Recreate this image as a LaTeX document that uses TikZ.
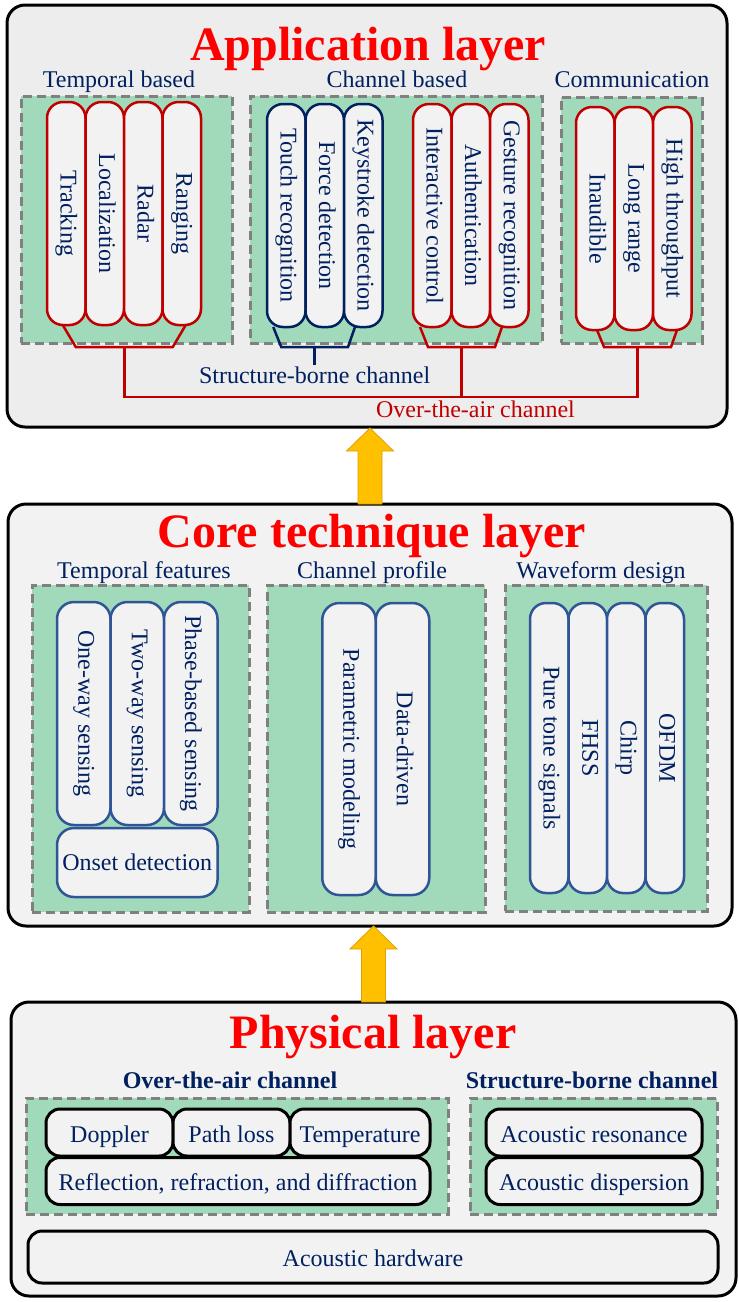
\documentclass[tikz,border=0pt]{standalone}
\usepackage{fontspec}
\usepackage{graphicx}
\setmainfont{Liberation Serif}
\usetikzlibrary{positioning}

\definecolor{navy}{RGB}{0,32,96}
\definecolor{titlered}{RGB}{255,0,0}
\definecolor{darkred}{RGB}{192,0,0}
\definecolor{pillblue}{RGB}{47,85,151}
\definecolor{grpgreen}{RGB}{160,218,186}
\definecolor{dashgray}{RGB}{128,128,128}
\definecolor{pillgray}{RGB}{242,242,242}
\definecolor{appgray}{RGB}{237,237,237}
\definecolor{layergray}{RGB}{242,242,242}
\definecolor{arrowyel}{RGB}{255,192,0}
\definecolor{arrowedge}{RGB}{222,160,0}

\newcommand{\vtext}[1]{\rotatebox{-90}{\vphantom{Ag}#1}}

\begin{document}
\begin{tikzpicture}[x=1pt, y=-1pt,
    every node/.style={font=\fontsize{24}{28}\selectfont, text=navy},
    layer/.style={draw=black, line width=3pt, rounded corners=18pt, fill=layergray, inner sep=0pt, outer sep=0pt},
    title/.style={font=\fontsize{48}{56}\selectfont\bfseries, text=titlered, anchor=base},
    lbl/.style={anchor=base},
    blbl/.style={lbl, font=\fontsize{24}{28}\selectfont\bfseries},
    grp/.style={draw=dashgray, fill=grpgreen, dash pattern=on 9pt off 5pt, line width=3pt, inner sep=0pt},
    pill/.style={draw, fill=pillgray, line width=2.5pt, outer sep=0pt, inner sep=0pt},
    apill/.style={pill, draw=darkred, minimum width=38.5pt, minimum height=223pt, rounded corners=16pt},
    spill/.style={apill, draw=navy},
    cpill/.style={pill, draw=pillblue, minimum width=53.5pt, minimum height=223pt, rounded corners=17pt},
    wpill/.style={pill, draw=pillblue, minimum width=38.5pt, minimum height=290pt, rounded corners=16pt},
    pbox/.style={pill, draw=black, line width=3pt, minimum height=47pt, rounded corners=14pt, text height=19pt, text depth=0pt},
    redln/.style={draw=darkred, line width=2.5pt},
    blueln/.style={draw=navy, line width=2.5pt},
    uparrow/.style={fill=arrowyel, draw=arrowedge, line width=0.8pt}
  ]
  \useasboundingbox (0,0) rectangle (739,1302);

  % layers
  \node[layer, fill=appgray, minimum width=720pt, minimum height=422pt] (app) at (367,216) {};
  \node[layer, minimum width=724pt, minimum height=422pt] (core) at (370,715) {};
  \node[layer, minimum width=725pt, minimum height=294pt] (phys) at (373.5,1149) {};

  \node[title] at (368,60) {Application layer};
  \node[title] at (372,547) {Core technique layer};
  \node[title] at (373,1048) {Physical layer};

  % application layer
  \node[grp, minimum width=211pt, minimum height=247pt] (tgrp) at (126.5,219.5) {};
  \node[lbl] at (119,87) {Temporal based};
  \node[apill] (track) at (66.25,213.5) {\vtext{Tracking}};
  \node[apill, right=0pt of track] (loc) {\vtext{Localization}};
  \node[apill, right=0pt of loc] (radar) {\vtext{Radar}};
  \node[apill, right=0pt of radar] (rang) {\vtext{Ranging}};

  \node[grp, minimum width=292pt, minimum height=247pt] (cgrp) at (396,219.5) {};
  \node[lbl] at (397,87) {Channel based};
  \node[spill] (touch) at (286.25,215.5) {\vtext{Touch recognition}};
  \node[spill, right=0pt of touch] (force) {\vtext{Force detection}};
  \node[spill, right=0pt of force] (key) {\vtext{Keystroke detection}};
  \node[apill] (inter) at (432.25,215.5) {\vtext{Interactive control}};
  \node[apill, right=0pt of inter] (auth) {\vtext{Authentication}};
  \node[apill, right=0pt of auth] (gest) {\vtext{Gesture recognition}};

  \node[grp, minimum width=141pt, minimum height=246pt] (mgrp) at (631.5,220) {};
  \node[lbl] at (632,87) {Communication};
  \node[apill] (inaud) at (595.25,218.5) {\vtext{Inaudible}};
  \node[apill, right=0pt of inaud] (long) {\vtext{Long range}};
  \node[apill, right=0pt of long] (high) {\vtext{High throughput}};

  % brackets
  \draw[redln] ([xshift=-3.5pt]track.south) -- ++(13,22) -- coordinate (tb) ([xshift=-9pt,yshift=-22pt]rang.south) -- ([xshift=4pt]rang.south);
  \draw[blueln] ([xshift=-13pt]touch.south) -- ++(8,20) -- coordinate (sb) ([xshift=-15.25pt,yshift=-20pt]key.south) -- ([xshift=-8.25pt]key.south);
  \draw[redln] ([xshift=-12.25pt]inter.south) -- ++(8,20) -- coordinate (cb) ([xshift=-14.25pt,yshift=-20pt]gest.south) -- ([xshift=-7.25pt]gest.south);
  \draw[redln] ([xshift=1.75pt]inaud.south) -- ++(7,17) -- coordinate (mb) ([xshift=-1.25pt,yshift=-17pt]high.south) -- ([xshift=4.75pt]high.south);

  \draw[redln] (tb) -- ++(0,50) coordinate (bus) -- (bus -| mb) -- (mb);
  \draw[redln] (cb) -- (cb |- bus) node[below, inner sep=3pt, xshift=14pt, text=darkred] {Over-the-air channel};
  \draw[blueln] (sb) -- ++(0,18) node[below, inner sep=1pt] {Structure-borne channel};

  % core technique layer
  \node[grp, minimum width=217pt, minimum height=327pt] (tfgrp) at (140.5,748.5) {};
  \node[lbl] at (144,578) {Temporal features};
  \node[cpill] (one) at (83.75,713.5) {\vtext{One-way sensing}};
  \node[cpill, right=0pt of one] (two) {\vtext{Two-way sensing}};
  \node[cpill, right=0pt of two] (phase) {\vtext{Phase-based sensing}};
  \node[pill, draw=pillblue, minimum width=160.5pt, minimum height=69pt, rounded corners=17pt, anchor=north west] (onset) at ([yshift=-3pt]one.south west) {Onset detection};

  \node[grp, minimum width=218pt, minimum height=327pt] (cpgrp) at (376,748.5) {};
  \node[lbl] at (372,578) {Channel profile};
  \node[cpill, minimum height=292pt] (param) at (349,749) {\vtext{Parametric modeling}};
  \node[cpill, minimum height=292pt, right=0pt of param] (data) {\vtext{Data-driven}};

  \node[grp, minimum width=202pt, minimum height=326pt] (wfgrp) at (606,748) {};
  \node[lbl] at (601,578) {Waveform design};
  \node[wpill] (pure) at (549.25,748) {\vtext{Pure tone signals}};
  \node[wpill, right=0pt of pure] (fhss) {\vtext{FHSS}};
  \node[wpill, right=0pt of fhss] (chirp) {\vtext{Chirp}};
  \node[wpill, right=0pt of chirp] (ofdm) {\vtext{OFDM}};

  % physical layer
  \node[grp, minimum width=422pt, minimum height=116pt] (oagrp) at (237,1156) {};
  \node[blbl] at (230,1088) {Over-the-air channel};
  \node[pbox, minimum width=127pt] (dop) at (109.5,1132.5) {Doppler};
  \node[pbox, minimum width=117pt, right=0pt of dop] (ploss) {Path loss};
  \node[pbox, minimum width=140pt, right=0pt of ploss] (temp) {Temperature};
  \node[pbox, minimum width=384pt, anchor=north west] (refl) at ([yshift=-1.5pt]dop.south west) {Reflection, refraction, and diffraction};

  \node[grp, minimum width=247pt, minimum height=116pt] (sbgrp) at (593.5,1156) {};
  \node[blbl] at (592,1088) {Structure-borne channel};
  \node[pbox, minimum width=216pt] (reson) at (594,1132.5) {Acoustic resonance};
  \node[pbox, minimum width=216pt, below=1.5pt of reson] (disp) {Acoustic dispersion};

  \node[pbox, minimum width=690pt, minimum height=52pt] (hw) at (373,1257) {Acoustic hardware};

  % arrows between layers
  \filldraw[uparrow] ([xshift=-12pt]core.north) -- ++(0,-53) -- ++(-11.5,0) -- ++(23.5,-23) -- ++(23.5,23) -- ++(-11.5,0) -- ++(0,53) -- cycle;
  \filldraw[uparrow] ([xshift=-12pt]phys.north) -- ++(0,-53) -- ++(-11.5,0) -- ++(23.5,-23) -- ++(23.5,23) -- ++(-11.5,0) -- ++(0,53) -- cycle;
\end{tikzpicture}
\end{document}
